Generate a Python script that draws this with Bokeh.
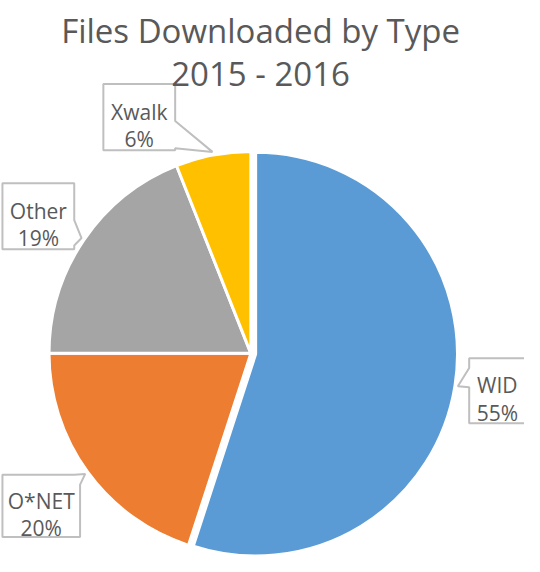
import numpy as np
from bokeh.plotting import figure
from bokeh.models import Range1d, ColumnDataSource
from bokeh.core.properties import value
from bokeh.embed import file_html
from bokeh.resources import INLINE

# ---- data ----
categories = ["WID", "O*NET", "Other", "Xwalk"]
shares = [55, 20, 19, 6]
colors = ["#5B9BD5", "#ED7D31", "#A5A5A5", "#FFC000"]
title_lines = ["Files Downloaded by Type", "2015 - 2016"]

# ---- layout (reference pixel frame, y downward) ----
W, H = 540, 572
def Y(py):
    return H - py

cx, cy, R = 258, 363, 208
explode = {"WID": 5}
TEXT = "#595959"
FONT = value("Open Sans")

frac = np.array(shares, dtype=float) / sum(shares)
cum = np.concatenate([[0.0], np.cumsum(frac)])
start = np.pi / 2 - 2 * np.pi * cum[:-1]
end = np.pi / 2 - 2 * np.pi * cum[1:]
mid = (start + end) / 2
off = np.array([explode.get(c, 0) for c in categories], dtype=float)
wx = cx + off * np.cos(mid)
wy = Y(cy) + off * np.sin(mid)

p = figure(width=524, height=556, x_range=Range1d(0, W), y_range=Range1d(0, H),
           x_axis_location=None, y_axis_location=None, toolbar_location=None,
           output_backend="svg", min_border=0)
p.xgrid.visible = False
p.ygrid.visible = False
p.outline_line_color = None
p.background_fill_color = "white"

src = ColumnDataSource(dict(x=wx, y=wy, start=start, end=end, color=colors))
p.wedge(x="x", y="y", radius=R, start_angle="start", end_angle="end",
        direction="clock", fill_color="color", line_color="white", line_width=3,
        source=src)

# callouts: box (x0, top, x1, bottom) in pixel frame, pointer side, pointer base
boxes = {
    "Xwalk": ((106, 86, 180, 154), "right", (124, 152)),
    "Other": ((2, 188, 76, 256), "right", (226, 252)),
    "WID": ((483, 368, 541, 435), "left", (378, 398)),
    "O*NET": ((2, 488, 82, 552), "corner_tr", (76, 498)),
}

pxs, pys = [], []
tx, ty, tt = [], [], []
for i, c in enumerate(categories):
    (x0, y0, x1, y1), side, (a, b) = boxes[c]
    tipx = wx[i] + (R + 3) * np.cos(mid[i])
    tipy = H - (wy[i] + (R + 3) * np.sin(mid[i]))
    tip = (tipx, tipy)
    if side == "right":
        pts = [(x0, y0), (x1, y0), (x1, a), tip, (x1, b), (x1, y1), (x0, y1)]
    elif side == "left":
        pts = [(x0, y0), (x1, y0), (x1, y1), (x0, y1), (x0, b), tip, (x0, a)]
    else:
        pts = [(x0, y0), (a, y0), tip, (x1, b), (x1, y1), (x0, y1)]
    pxs.append([q[0] for q in pts])
    pys.append([Y(q[1]) for q in pts])
    mx = (x0 + x1) / 2
    my = (y0 + y1) / 2
    tx += [mx, mx]
    ty += [Y(my - 5.5), Y(my + 22.5)]
    tt += [c, f"{shares[i]}%"]

p.patches(xs=pxs, ys=pys, fill_color="white", line_color="#BFBFBF", line_width=2)
p.text(x=tx, y=ty, text=tt, text_font=FONT, text_font_size=value("21px"),
       text_color=TEXT, text_align="center", text_baseline="alphabetic")

p.text(x=[268, 268], y=[Y(31), Y(75)], text=title_lines, text_font=FONT,
       text_font_size=value("33px"), text_color=TEXT, text_align="center",
       text_baseline="alphabetic")

open("out.html", "w").write(file_html(p, INLINE))
